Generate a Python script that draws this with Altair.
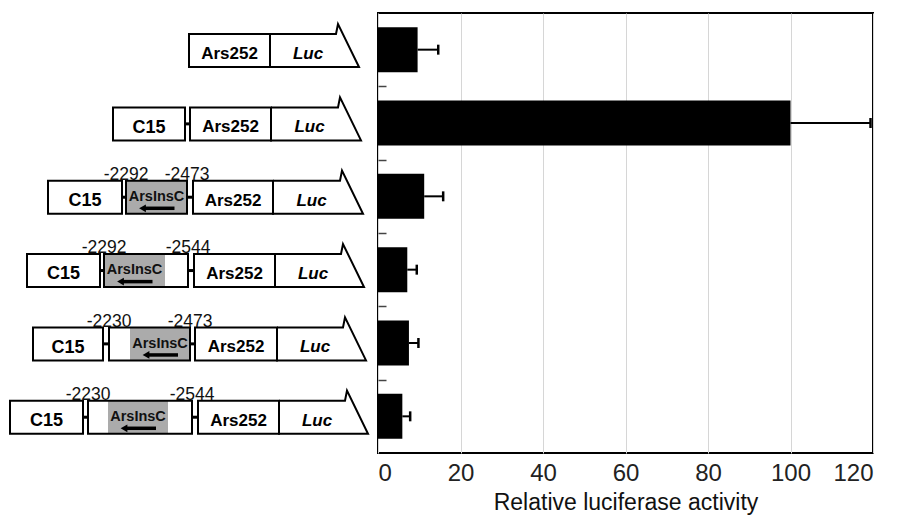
import altair as alt
import pandas as pd

# ---------------- data ----------------
constructs = ["Ars252-Luc", "C15/Ars252-Luc",
              "C15/ArsInsC(-2292/-2473)/Ars252-Luc", "C15/ArsInsC(-2292/-2544)/Ars252-Luc",
              "C15/ArsInsC(-2230/-2473)/Ars252-Luc", "C15/ArsInsC(-2230/-2544)/Ars252-Luc"]
activity = [9.6, 100.0, 11.2, 7.1, 7.5, 5.9]
error = [5.0, 19.4, 4.6, 2.3, 2.3, 1.9]
x_ticks = [0, 20, 40, 60, 80, 100, 120]

# schematic element extents (diagram units, left to right)
c15_start = [None, 112, 47, 26, 32, 9]
c15_end = [None, 184, 121, 99, 102, 82]
ins_start = [None, None, 125, 103, 108, 87]
gray_start = [None, None, 125, 103, 129, 107]
gray_end = [None, None, 186, 164, 189, 167]
ins_end = [None, None, 186, 187, 189, 191]
ars_start = [188, 189, 192, 193, 194, 197]
luc_start = [269, 270, 272, 274, 276, 278]
luc_flag = [335, 337, 339, 340, 342, 344]
luc_tip = [358, 360, 362, 363, 365, 367]
left_pos = [None, None, "-2292", "-2292", "-2230", "-2230"]
right_pos = [None, None, "-2473", "-2544", "-2473", "-2544"]

# ---------------- tables ----------------
n = len(constructs)
TOP, BOT, FLAG = -0.213, 0.237, -0.35

rects, grays, polys, conns, arrows, heads, labels, poslabels = [], [], [], [], [], [], [], []
for r in range(n):
    c = r + 0.5
    if c15_start[r] is not None:
        rects.append(dict(x0=c15_start[r], x1=c15_end[r], y0=c + TOP, y1=c + BOT, fill="white"))
        labels.append(dict(x=(c15_start[r] + c15_end[r]) / 2, y=c + 0.13, t="C15", st="c15"))
        nxt = ins_start[r] if ins_start[r] is not None else ars_start[r]
        conns.append(dict(x0=c15_end[r], x1=nxt, y=c + 0.012))
    if ins_start[r] is not None:
        grays.append(dict(x0=gray_start[r], x1=gray_end[r], y0=c + TOP, y1=c + BOT))
        rects.append(dict(x0=ins_start[r], x1=ins_end[r], y0=c + TOP, y1=c + BOT, fill="none"))
        conns.append(dict(x0=ins_end[r], x1=ars_start[r], y=c + 0.012))
        gc = (gray_start[r] + gray_end[r]) / 2
        arrows.append(dict(x0=gc - 12, x1=gc + 18, y=c + 0.163))
        heads.append(dict(x=gc - 14, y=c + 0.163))
        labels.append(dict(x=gc, y=c + 0.065, t="ArsInsC", st="ins"))
        poslabels.append(dict(x=ins_start[r], y=c + TOP - 0.012, t=left_pos[r]))
        poslabels.append(dict(x=ins_end[r], y=c + TOP - 0.012, t=right_pos[r]))
    rects.append(dict(x0=ars_start[r], x1=luc_start[r], y0=c + TOP, y1=c + BOT, fill="white"))
    labels.append(dict(x=(ars_start[r] + luc_start[r]) / 2, y=c + 0.125, t="Ars252", st="normal"))
    verts = [(luc_start[r], c + TOP), (luc_flag[r], c + TOP), (luc_flag[r] + 2, c + FLAG),
             (luc_tip[r], c + BOT), (luc_start[r], c + BOT), (luc_start[r], c + TOP)]
    for i, (vx, vy) in enumerate(verts):
        polys.append(dict(row=r, o=i, x=vx, y=vy))
    labels.append(dict(x=(luc_start[r] + luc_flag[r]) / 2 + 5, y=c + 0.125, t="Luc", st="luc"))

rect_df = pd.DataFrame(rects)
gray_df = pd.DataFrame(grays)
poly_df = pd.DataFrame(polys)
conn_df = pd.DataFrame(conns)
arrow_df = pd.DataFrame(arrows)
head_df = pd.DataFrame(heads)
lab_df = pd.DataFrame(labels)
pos_df = pd.DataFrame(poslabels)

bars_df = pd.DataFrame(dict(
    act=activity, err=error, row=list(range(n))))
bars_df["zero"] = 0
bars_df["hi"] = bars_df["act"] + bars_df["err"]
bars_df["yc"] = bars_df["row"] + 0.5
bars_df["y0"] = bars_df["yc"] - 0.307
bars_df["y1"] = bars_df["yc"] + 0.307
bars_df["c0"] = bars_df["yc"] - 0.068
bars_df["c1"] = bars_df["yc"] + 0.068

# ---------------- left: schematic ----------------
XS = alt.Scale(domain=[8, 374], nice=False, zero=False)
YS = alt.Scale(domain=[0, n], reverse=True, nice=False, zero=False)
FONT = "Liberation Sans"

gray_l = alt.Chart(gray_df).mark_rect(fill="#ababab", strokeWidth=0).encode(
    x=alt.X("x0:Q", scale=XS, axis=None), x2="x1:Q",
    y=alt.Y("y0:Q", scale=YS, axis=None), y2="y1:Q")
white_l = alt.Chart(rect_df[rect_df.fill == "white"]).mark_rect(
    fill="white", stroke="black", strokeWidth=2).encode(
    x=alt.X("x0:Q", scale=XS, axis=None), x2="x1:Q",
    y=alt.Y("y0:Q", scale=YS, axis=None), y2="y1:Q")
ins_l = alt.Chart(rect_df[rect_df.fill == "none"]).mark_rect(
    fillOpacity=0, stroke="black", strokeWidth=2).encode(
    x=alt.X("x0:Q", scale=XS, axis=None), x2="x1:Q",
    y=alt.Y("y0:Q", scale=YS, axis=None), y2="y1:Q")
luc_l = alt.Chart(poly_df).mark_line(color="black", strokeWidth=2, strokeJoin="miter").encode(
    x=alt.X("x:Q", scale=XS, axis=None), y=alt.Y("y:Q", scale=YS, axis=None),
    detail="row:N", order="o:Q")
conn_l = alt.Chart(conn_df).mark_rule(color="black", strokeWidth=3).encode(
    x=alt.X("x0:Q", scale=XS, axis=None), x2="x1:Q", y=alt.Y("y:Q", scale=YS, axis=None))
arrow_l = alt.Chart(arrow_df).mark_rule(color="black", strokeWidth=3.5).encode(
    x=alt.X("x0:Q", scale=XS, axis=None), x2="x1:Q", y=alt.Y("y:Q", scale=YS, axis=None))
head_l = alt.Chart(head_df).mark_point(shape="triangle-left", filled=True, color="black",
                                        size=60, opacity=1).encode(
    x=alt.X("x:Q", scale=XS, axis=None), y=alt.Y("y:Q", scale=YS, axis=None))
txt_box = alt.Chart(lab_df[lab_df.st == "normal"]).mark_text(
    font=FONT, fontSize=17, fontWeight="bold", baseline="alphabetic", color="black").encode(
    x=alt.X("x:Q", scale=XS, axis=None), y=alt.Y("y:Q", scale=YS, axis=None), text="t:N")
txt_c15 = alt.Chart(lab_df[lab_df.st == "c15"]).mark_text(
    font=FONT, fontSize=18, fontWeight="bold", baseline="alphabetic", color="black").encode(
    x=alt.X("x:Q", scale=XS, axis=None), y=alt.Y("y:Q", scale=YS, axis=None), text="t:N")
txt_luc = alt.Chart(lab_df[lab_df.st == "luc"]).mark_text(
    font=FONT, fontSize=17, fontWeight="bold", fontStyle="italic", baseline="alphabetic",
    color="black").encode(
    x=alt.X("x:Q", scale=XS, axis=None), y=alt.Y("y:Q", scale=YS, axis=None), text="t:N")
txt_ins = alt.Chart(lab_df[lab_df.st == "ins"]).mark_text(
    font=FONT, fontSize=14.5, fontWeight="bold", baseline="alphabetic", color="#111").encode(
    x=alt.X("x:Q", scale=XS, axis=None), y=alt.Y("y:Q", scale=YS, axis=None), text="t:N")
txt_pos = alt.Chart(pos_df).mark_text(
    font=FONT, fontSize=17.5, baseline="alphabetic", color="#111").encode(
    x=alt.X("x:Q", scale=XS, axis=None), y=alt.Y("y:Q", scale=YS, axis=None), text="t:N")

left = alt.layer(gray_l, white_l, ins_l, luc_l, conn_l, arrow_l, head_l,
                 txt_box, txt_c15, txt_luc, txt_ins, txt_pos).properties(
    width=366, height=440, view=alt.ViewBackground(stroke="transparent"))

# ---------------- right: bar chart ----------------
BX = alt.Scale(domain=[0, 120], nice=False)
BY = alt.Scale(domain=[0, n], reverse=True, nice=False, zero=False)

bars = alt.Chart(bars_df).mark_bar(color="black").encode(
    x=alt.X("act:Q", scale=BX, axis=alt.Axis(
        values=x_ticks, grid=True, gridColor="#d6d6d6", gridWidth=1, ticks=False, domain=False,
        labelFontSize=24, labelPadding=8, labelColor="#222", labelFont=FONT,
        title="Relative luciferase activity", titleFontSize=23, titleFontWeight="normal",
        titleFont=FONT, titleColor="#111", titlePadding=6)),
    x2="zero:Q",
    y=alt.Y("y0:Q", scale=BY, axis=alt.Axis(
        values=list(range(1, n)), labels=False, domain=False, grid=False, ticks=True,
        tickSize=8, offset=-8, tickColor="#444", tickWidth=1.5, title=None)),
    y2="y1:Q")
errs = alt.Chart(bars_df).mark_rule(color="black", strokeWidth=2).encode(
    x="act:Q", x2="hi:Q", y="yc:Q")
caps = alt.Chart(bars_df).mark_rule(color="black", strokeWidth=2.5).encode(
    x="hi:Q", y="c0:Q", y2="c1:Q")

right = alt.layer(bars, errs, caps).properties(width=495, height=440)

chart = alt.hconcat(left, right, spacing=0).properties(
    padding={"left": 0, "top": 4, "right": 0, "bottom": 0}
).configure_view(stroke="black", strokeWidth=2)

chart.save("out.html", embed_options={"renderer": "svg", "actions": False})
